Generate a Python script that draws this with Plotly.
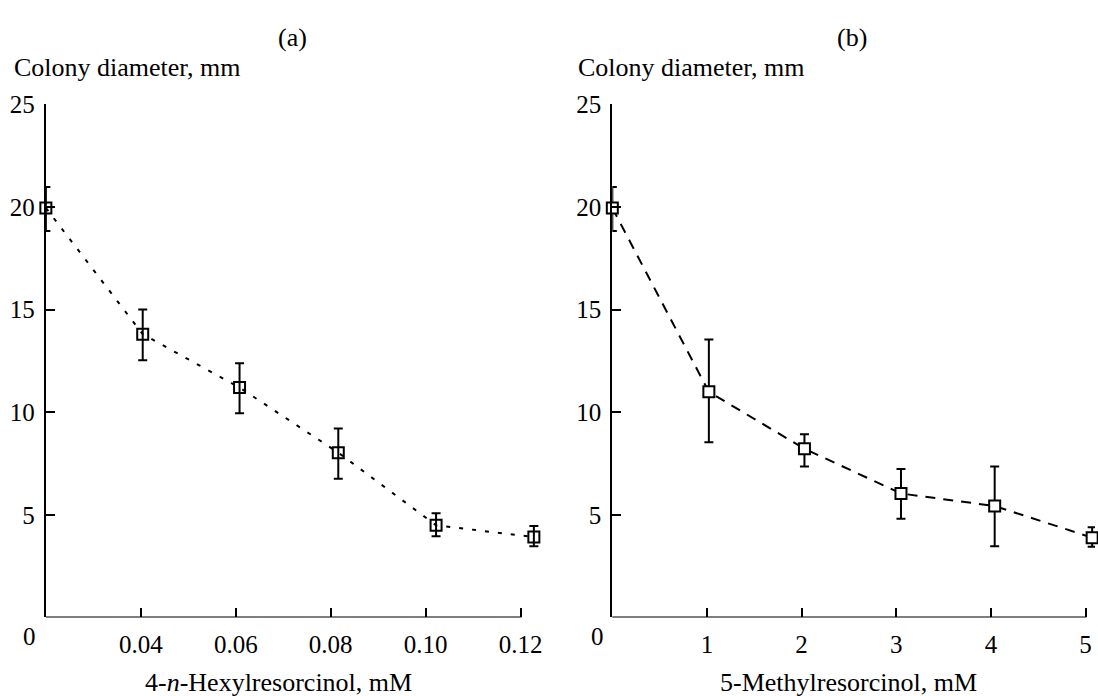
import plotly.graph_objects as go

# ---- data ----
hex_tick_labels = ["0.04", "0.06", "0.08", "0.10", "0.12"]
hex_tick_pos = [1, 2, 3, 4, 5]
hex_pos = [0, 1.02, 2.04, 3.08, 4.11, 5.14]
hex_mean = [19.95, 13.80, 11.20, 8.03, 4.49, 3.92]
hex_err_plus = [1.02, 1.20, 1.19, 1.18, 0.59, 0.54]
hex_err_minus = [1.12, 1.27, 1.25, 1.27, 0.53, 0.45]

met_tick_labels = ["1", "2", "3", "4", "5"]
met_tick_pos = [1, 2, 3, 4, 5]
met_pos = [0, 1.02, 2.03, 3.05, 4.04, 5.07]
met_mean = [19.95, 10.99, 8.22, 6.04, 5.43, 3.89]
met_err_plus = [1.02, 2.55, 0.71, 1.19, 1.93, 0.50]
met_err_minus = [1.12, 2.45, 0.86, 1.23, 1.96, 0.45]

y_ticks = [5, 10, 15, 20, 25]

W, H = 1098, 696
FONT = "Liberation Serif"
FS = 26
TFS = 25

def px_x(p):
    return p / W

def px_y(p):
    return (H - p) / H

# pixel geometry of the two panels
STEP = 95.2          # pixels per x-axis tick step
X0_A, X0_B = 46, 614
XR_A, XR_B = 5.2, 5.1  # x ranges (in tick steps) so edge points stay visible

fig = go.Figure()

fig.add_trace(go.Scatter(
    x=hex_pos, y=hex_mean, xaxis="x", yaxis="y", mode="lines+markers",
    line=dict(color="black", width=2, dash="4px,9px"),
    marker=dict(symbol="square-open", size=11, color="black", line=dict(width=2, color="black")),
    error_y=dict(type="data", symmetric=False, array=hex_err_plus, arrayminus=hex_err_minus,
                 color="black", thickness=2, width=4.5),
    cliponaxis=False, showlegend=False,
))
fig.add_trace(go.Scatter(
    x=met_pos, y=met_mean, xaxis="x2", yaxis="y2", mode="lines+markers",
    line=dict(color="black", width=2, dash="10px,8px"),
    marker=dict(symbol="square", size=11, color="white", line=dict(width=2, color="black")),
    error_y=dict(type="data", symmetric=False, array=met_err_plus, arrayminus=met_err_minus,
                 color="black", thickness=2, width=4.5),
    cliponaxis=False, showlegend=False,
))

x_common = dict(showline=False, ticks="inside", ticklen=9,
                tickwidth=2, tickcolor="black", showgrid=False, zeroline=False,
                tickfont=dict(family=FONT, size=TFS, color="black"),
                ticklabelstandoff=10, fixedrange=True)
y_common = dict(showline=True, linewidth=2, linecolor="black", ticks="inside", ticklen=9,
                tickwidth=2, tickcolor="black", showgrid=False, zeroline=False,
                tickfont=dict(family=FONT, size=TFS, color="black"), range=[0, 25],
                tickvals=y_ticks, ticktext=[str(v) for v in y_ticks], fixedrange=True,
                ticklabelstandoff=4, domain=[px_y(616), px_y(93)])

fig.update_layout(
    width=W, height=H,
    margin=dict(l=0, r=0, t=0, b=0),
    paper_bgcolor="white", plot_bgcolor="white",
    font=dict(family=FONT, size=FS, color="black"),
    xaxis=dict(x_common, domain=[px_x(X0_A), px_x(X0_A + XR_A * STEP)], anchor="y",
               range=[0, XR_A], tickvals=hex_tick_pos, ticktext=hex_tick_labels),
    yaxis=dict(y_common, anchor="x"),
    xaxis2=dict(x_common, domain=[px_x(X0_B), min(1.0, px_x(X0_B + XR_B * STEP))], anchor="y2",
                range=[0, XR_B], tickvals=met_tick_pos, ticktext=met_tick_labels),
    yaxis2=dict(y_common, anchor="x2"),
)

# x-axis baselines ending at the last tick
fig.add_shape(type="line", xref="x", yref="y", x0=-0.01, x1=hex_tick_pos[-1] + 0.01, y0=0, y1=0,
              line=dict(color="black", width=2), layer="below")
fig.add_shape(type="line", xref="x2", yref="y2", x0=-0.01, x1=met_tick_pos[-1] + 0.01, y0=0, y1=0,
              line=dict(color="black", width=2), layer="below")

def ann(text, x, y, xanchor="center", yanchor="middle", size=FS):
    fig.add_annotation(text=text, x=px_x(x), y=px_y(y), xref="paper", yref="paper",
                       xanchor=xanchor, yanchor=yanchor, showarrow=False,
                       font=dict(family=FONT, size=size, color="black"))

ann("(a)", 293, 25)
ann("(b)", 854, 25)
ann("Colony diameter, mm", 12, 56, xanchor="left")
ann("Colony diameter, mm", 578, 56, xanchor="left")
ann("0", 30, 635, size=TFS)
ann("0", 599, 635, size=TFS)
ann("4-<i>n</i>-Hexylresorcinol, mM", 279, 682)
ann("5-Methylresorcinol, mM", 851, 682)

fig.write_html("out.html", config={"displayModeBar": False},
               post_script="document.body.style.margin='0';document.body.style.overflow='hidden';")
